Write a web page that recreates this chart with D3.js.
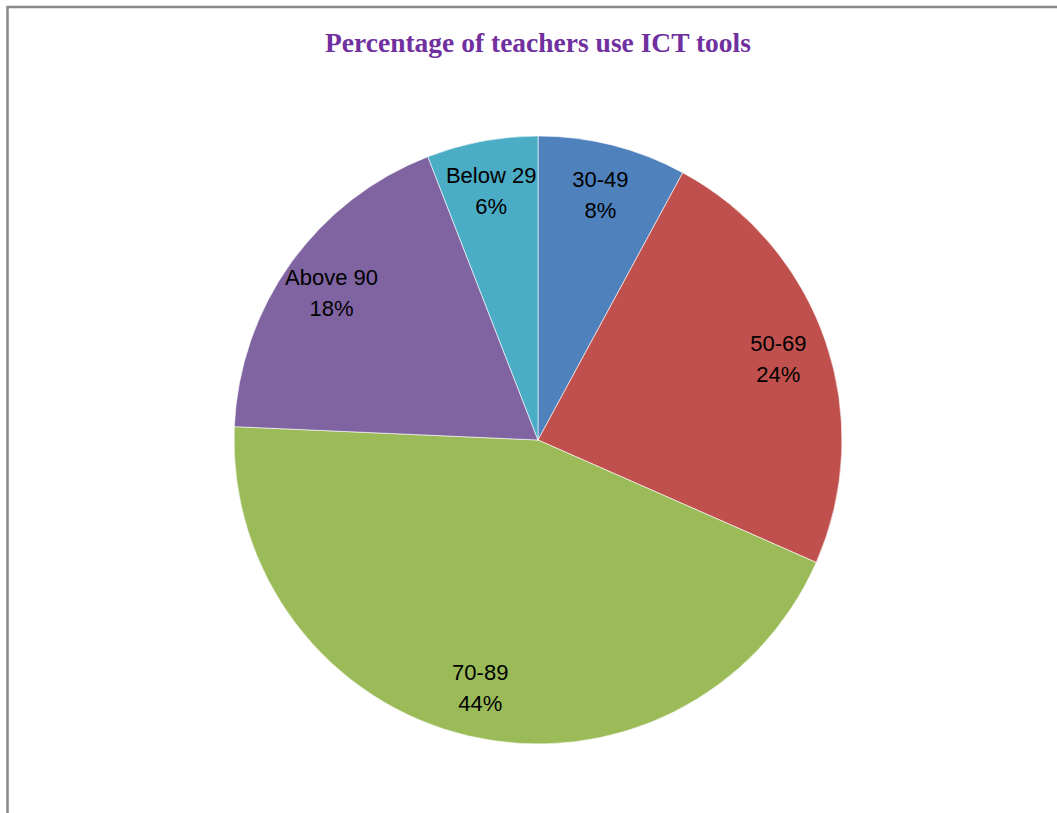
<!DOCTYPE html>
<html>
<head>
<meta charset="utf-8">
<script src="https://cdn.jsdelivr.net/npm/d3@7"></script>
<style>
  html, body { margin: 0; padding: 0; background: #fff; }
</style>
</head>
<body>
<div id="chart"></div>
<script>
var categories = ["30-49", "50-69", "70-89", "Above 90", "Below 29"]
var values = [7.9, 23.7, 44.1, 18.4, 5.9]
var colors = ["#4F81BD", "#C0504D", "#9BBB59", "#8064A2", "#4BACC6"]

var width = 1057, height = 813
var cx = 538, cy = 440, radius = 304

var svg = d3.select("#chart")
    .append("svg")
    .attr("width", width)
    .attr("height", height)

// chart frame (only top and left edges show)
svg.append("path")
    .attr("d", "M7.5," + height + " L7.5,7 L" + width + ",7")
    .style("fill", "none")
    .style("stroke", "#888")
    .style("stroke-width", 2.5)

svg.append("text")
    .attr("x", cx)
    .attr("y", 52)
    .attr("text-anchor", "middle")
    .style("font-family", "'Liberation Serif', 'Times New Roman', serif")
    .style("font-weight", "bold")
    .style("font-size", "27.5px")
    .style("fill", "#7030A0")
    .text("Percentage of teachers use ICT tools")

var data = categories.map(function(c, i) {
    return {name: c, value: values[i], color: colors[i]}
})

var pie = d3.pie()
    .sort(null)
    .value(function(d) { return d.value })

var arc = d3.arc().innerRadius(0).outerRadius(radius)
var labelArc = d3.arc().innerRadius(254).outerRadius(254)

var g = svg.append("g")
    .attr("transform", "translate(" + cx + "," + cy + ")")

var arcs = pie(data)

g.selectAll("path.slice")
    .data(arcs)
    .enter()
    .append("path")
    .attr("class", "slice")
    .attr("d", arc)
    .style("fill", function(d) { return d.data.color })
    .style("stroke", "#fff")
    .style("stroke-opacity", 0.6)
    .style("stroke-width", 1)

var label = g.selectAll("text.lbl")
    .data(arcs)
    .enter()
    .append("text")
    .attr("class", "lbl")
    .attr("transform", function(d) {
        var c = labelArc.centroid(d)
        return "translate(" + c[0] + "," + c[1] + ")"
    })
    .attr("text-anchor", "middle")
    .style("font-family", "'Liberation Sans', Arial, sans-serif")
    .style("font-size", "22px")
    .style("fill", "#000")

label.append("tspan")
    .attr("x", 0)
    .attr("y", -7)
    .text(function(d) { return d.data.name })

label.append("tspan")
    .attr("x", 0)
    .attr("y", 24)
    .text(function(d) { return Math.round(d.data.value) + "%" })
</script>
</body>
</html>
